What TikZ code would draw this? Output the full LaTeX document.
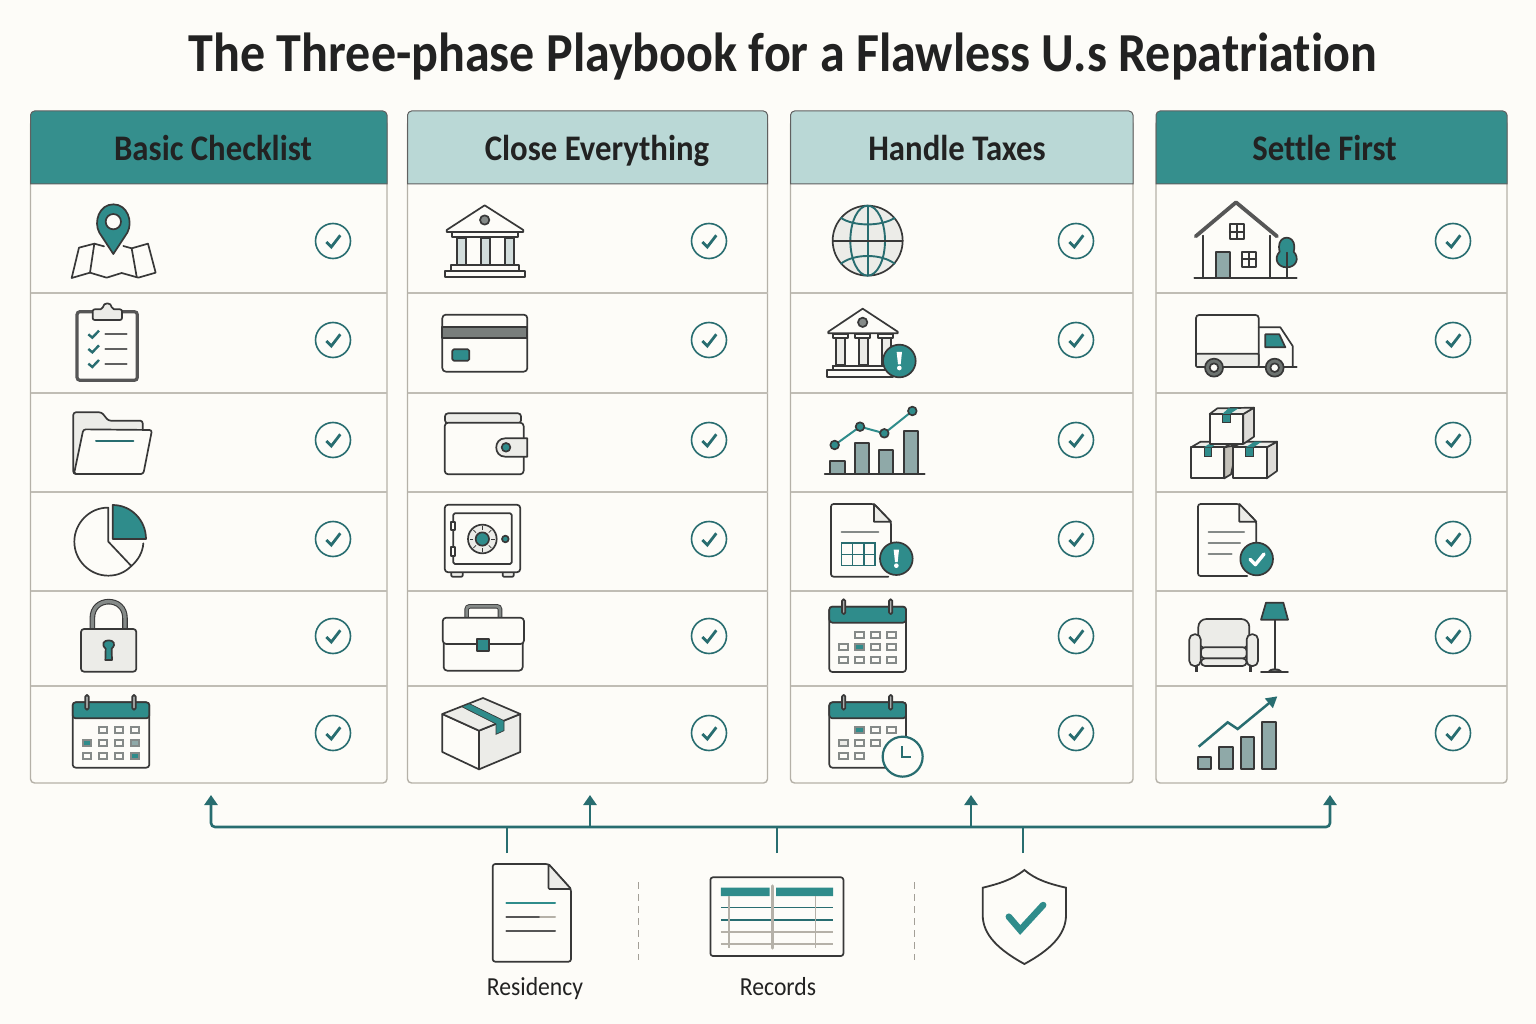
\documentclass[tikz,border=0pt]{standalone}
\usepackage{fontspec}
\setmainfont{Carlito}[FakeStretch=.91,Ligatures=NoCommon]
\usetikzlibrary{arrows.meta}
\definecolor{paper}{HTML}{FDFCF8}
\definecolor{teal}{HTML}{2F8C8B}
\definecolor{headteal}{HTML}{358F8D}
\definecolor{deepteal}{HTML}{286D70}
\definecolor{paleteal}{HTML}{BAD8D6}
\definecolor{ink}{HTML}{222222}
\definecolor{icondark}{HTML}{383838}
\definecolor{rule}{HTML}{B5B1A8}
\definecolor{soft}{HTML}{ECECE8}
\definecolor{slate}{HTML}{8FA9A8}
\definecolor{midgray}{HTML}{858A88}
\tikzset{
  zoomed/.style 2 args={shift={(#1,#2)},x=.33333pt,y=-.33333pt},
  icon/.style={draw=icondark,line width=1.7pt,line join=round,line cap=round},
  thin line/.style={line width=2pt,line cap=round},
  busline/.style={draw=deepteal,line width=2.6pt},
  uptip/.style={-{Triangle[length=10pt,width=13pt]}},
  pics/tickring/.style={code={
    \draw[deepteal,line width=1.6pt] (0,0) circle[radius=17.5];
    \draw[deepteal,line width=2.8pt,line join=miter] (-6.7,1) -- (-1.7,6) -- (7.3,-5.7);
  }},
  pics/alertbadge/.style={code={
    \draw[icon,fill=teal] (0,0) circle[radius=49];
    \fill[white] (-8,-27) -- (8,-27) -- (4,10) -- (-4,10) -- cycle;
    \fill[white] (0,21) circle[radius=7];
  }},
  pics/calicon/.style={code={
    \draw[icon,fill=paper,rounded corners=3pt] (0,0) rectangle (230,196);
    \draw[icon,fill=teal,rounded corners=3pt] (0,48) -- (0,0) -- (230,0) -- (230,48) -- cycle;
    \draw[icon,fill=midgray!70,rounded corners=1.5pt] (38,-22) rectangle (48,22);
    \draw[icon,fill=midgray!70,rounded corners=1.5pt] (179,-22) rectangle (189,22);
    \foreach \cc/\cr/\cf in {#1} {
      \draw[draw=midgray,line width=1.8pt,fill=\cf] (\cc*48-18,\cr*38+37) rectangle (\cc*48+8,\cr*38+55);
    }
  }},
}
\begin{document}
\begin{tikzpicture}[x=1pt,y=-1pt]
\useasboundingbox (0,0) rectangle (1536,1024);
\fill[paper] (0,0) rectangle (1536,1024);
\node[font=\fontsize{55}{60}\selectfont\bfseries,text=ink,anchor=base] (title) at (783,72) {The Three-phase Playbook for a Flawless U.s Repatriation};

\foreach \xl/\xr/\xt/\headc/\htext/\rx in {
  30.5/387/213/headteal/Basic Checklist/333,
  407.5/767.5/597/paleteal/Close Everything/709,
  790.5/1133/957/paleteal/Handle Taxes/1076,
  1156/1507/1324.5/headteal/Settle First/1453} {
  \draw[rule,line width=1.4pt,rounded corners=4pt] (\xl,120) rectangle (\xr,783);
  \fill[\headc] (\xl,184) -- (\xl,115) .. controls (\xl,113) and (\xl+2,111) .. (\xl+4,111) -- (\xr-4,111) .. controls (\xr-2,111) and (\xr,113) .. (\xr,115) -- (\xr,184) -- cycle;
  \draw[draw=icondark!80,line width=1pt] (\xl,184) -- (\xl,115) .. controls (\xl,113) and (\xl+2,111) .. (\xl+4,111) -- (\xr-4,111) .. controls (\xr-2,111) and (\xr,113) .. (\xr,115) -- (\xr,184) -- cycle;
  \node[font=\fontsize{36}{38}\selectfont\bfseries,text=ink,anchor=base] (head\htext) at (\xt,161) {\htext};
  \foreach \ry in {293,393,492,591,686}
    \draw[rule!85,line width=1.1pt] (\xl,\ry) -- (\xr,\ry);
  \foreach \ry in {241,340,440,539,636,733}
    \pic at (\rx,\ry) {tickring};
}

% first column
\begin{scope}[zoomed={30}{100}]
  \draw[icon] (222,439) -- (193,431) -- (147,443) -- (125,534) -- (180,518) -- (230,533) -- (275,519) -- (325,533) -- (377,518) -- (354,431) -- (305,445) -- (280,438);
  \draw[icon] (193,431) -- (180,518) (305,445) -- (320,530);
  \draw[icon,fill=teal] (250,462) -- (208,398) .. controls (190,365) and (208,313) .. (250,313) .. controls (292,313) and (310,365) .. (292,398) -- cycle;
  \draw[icon,fill=paper] (250,365) circle[radius=23];
  \draw[draw=icondark!85,line width=3.2pt,fill=paper,rounded corners=3pt] (141,635) rectangle (322,841);
  \draw[icon,fill=soft,rounded corners=2pt] (188,628) -- (218,628) .. controls (220,606) and (244,606) .. (246,628) -- (276,628) -- (276,660) -- (188,660) -- cycle;
  \foreach \ty in {703,747,791} {
    \draw[deepteal,line width=2.4pt] (175,\ty) -- (187,\ty+10) -- (207,\ty-11);
    \draw[icondark!80,thin line] (226,\ty) -- (290,\ty);
  }
  \draw[icon,fill=soft,rounded corners=2.5pt] (130,1122) -- (130,937) -- (215,937) -- (235,962) -- (338,962) -- (338,1122) -- cycle;
  \draw[icon,fill=paper,rounded corners=2.5pt] (160,988) -- (366,990) -- (340,1122) -- (132,1122) -- cycle;
  \draw[deepteal,thin line] (198,1024) -- (310,1024);
\end{scope}
\begin{scope}[zoomed={30}{490}]
  \draw[icon] (233,53) .. controls (179,53) and (133,99) .. (133,155) .. controls (133,211) and (179,257) .. (235,257) .. controls (262,257) and (285,247) .. (303,229) .. controls (325,210) and (338,187) .. (340,160);
  \draw[icon] (235,53) -- (235,155) -- (303,227);
  \draw[icon,fill=teal] (248,45) .. controls (304,45) and (348,91) .. (348,147) -- (248,147) -- cycle;
  \draw[icondark,line width=5.6pt] (187,415) -- (187,385) .. controls (187,352) and (210,335) .. (236,335) .. controls (262,335) and (285,352) .. (285,385) -- (285,415);
  \draw[midgray,line width=3.4pt] (187,415) -- (187,385) .. controls (187,352) and (210,335) .. (236,335) .. controls (262,335) and (285,352) .. (285,385) -- (285,415);
  \draw[icon,fill=soft,rounded corners=3pt] (153,417) rectangle (319,545);
  \draw[icon,fill=teal] (227,476) .. controls (212,462) and (222,451) .. (236,451) .. controls (250,451) and (260,462) .. (245,476) -- (246,510) -- (226,510) -- cycle;
  \pic at (128,637) {calicon={2/1/paper,3/1/paper,4/1/paper,1/2/teal,2/2/paper,3/2/paper,4/2/slate,1/3/paper,2/3/paper,3/3/paper,4/3/teal}};
\end{scope}

% second column
\begin{scope}[zoomed={410}{190}]
  \draw[icon,fill=paper] (224,46) -- (110,120) -- (110,126) -- (340,126) -- (340,120) -- cycle;
  \draw[icon,fill=midgray] (224,90) circle[radius=14];
  \draw[icon] (127,127) rectangle (323,140);
  \foreach \cx in {140,212,284} {
    \draw[icon,fill=slate!40] (\cx,143) rectangle (\cx+28,226);
    \draw[icon] (\cx-8,141) -- (\cx+36,141);
  }
  \draw[icon,fill=paper] (122,226) rectangle (326,242);
  \draw[icon,fill=paper] (105,242) rectangle (344,262);
  \draw[icon,fill=paper,rounded corners=3.5pt] (97,374) rectangle (352,545);
  \draw[icon,fill=midgray!110] (97,412) rectangle (352,443);
  \draw[icon,fill=teal,rounded corners=1.5pt] (127,478) rectangle (178,512);
  \draw[icon,fill=soft,rounded corners=3pt] (105,700) -- (105,670) -- (333,670) -- (333,700) -- cycle;
  \draw[icon,fill=paper,rounded corners=3.5pt] (104,698) rectangle (341,853);
  \draw[icon,fill=soft] (352,745) -- (285,745) .. controls (250,745) and (250,800) .. (285,800) -- (352,800) -- cycle;
  \draw[icon,fill=teal] (288,772) circle[radius=13];
\end{scope}
\begin{scope}[zoomed={410}{490}]
  \draw[icon,fill=soft,rounded corners=1pt] (124,240) rectangle (158,260);
  \draw[icon,fill=soft,rounded corners=1pt] (278,240) rectangle (311,260);
  \draw[icon,fill=paper,rounded corners=3.5pt] (104,44) rectangle (331,247);
  \draw[icon,rounded corners=1.5pt] (130,70) rectangle (305,222);
  \draw[icon,fill=paper] (122,97) rectangle (136,120);
  \draw[icon,fill=paper] (122,172) rectangle (136,197);
  \draw[icon,fill=soft] (217,147) circle[radius=43];
  \foreach \ta in {0,45,...,315}
    \draw[icondark,line width=.8pt] ({217+27*cos(\ta)},{147+27*sin(\ta)}) -- ({217+38*cos(\ta)},{147+38*sin(\ta)});
  \draw[icon,fill=teal] (217,147) circle[radius=20];
  \draw[icon,fill=teal] (286,147) circle[radius=10];
  \draw[icondark,line width=4.6pt,rounded corners=3pt] (170,384) -- (170,349) -- (270,349) -- (270,384);
  \draw[midgray,line width=2.8pt,rounded corners=3pt] (170,384) -- (170,349) -- (270,349) -- (270,384);
  \draw[icon,fill=paper,rounded corners=3.5pt] (101,450) -- (101,542) -- (338,542) -- (338,450) -- cycle;
  \draw[icon,fill=paper,rounded corners=3.5pt] (98,383) rectangle (342,462);
  \draw[icon,fill=teal] (202,447) rectangle (237,483);
  \draw[icon,fill=paper] (97,672) -- (207,722) -- (207,838) -- (97,786) -- cycle;
  \draw[icon,fill=soft] (207,722) -- (331,672) -- (331,786) -- (207,838) -- cycle;
  \draw[icon,fill=soft] (219,624) -- (97,672) -- (207,722) -- (331,672) -- cycle;
  \draw[draw=icondark,line width=.7pt,fill=teal] (155,650) -- (178,641) -- (282,692) -- (282,722) -- (258,733) -- (258,702) -- cycle;
\end{scope}

% third column
\begin{scope}[zoomed={790}{190}]
  \draw[icon,fill=soft] (233,152) circle[radius=105];
  \draw[deepteal,line width=1.9pt] (233,152) ellipse[x radius=52,y radius=105];
  \draw[deepteal,line width=1.9pt] (233,47) -- (233,257);
  \draw[deepteal,line width=1.9pt] (152,83) .. controls (190,110) and (275,110) .. (315,83);
  \draw[deepteal,line width=1.9pt] (152,222) .. controls (190,190) and (275,190) .. (315,222);
  \draw[icon] (128,152) -- (338,152);
  \draw[icon,fill=paper] (218,356) -- (115,425) -- (115,430) -- (323,430) -- (323,425) -- cycle;
  \draw[icon,fill=midgray] (218,397) circle[radius=14];
  \foreach \cx in {138,206,275} {
    \draw[icon,fill=soft] (\cx,444) rectangle (\cx+27,526);
    \draw[icon] (\cx-10,433) rectangle (\cx+35,444);
    \draw[icon] (\cx-10,527) -- (\cx+35,527);
  }
  \draw[icon,fill=paper] (128,529) rectangle (300,541);
  \draw[icon,fill=paper] (112,541) rectangle (310,560);
  \pic at (328,513) {alertbadge};
  \foreach \bx/\bt in {121/812,194/760,267/780,341/724}
    \draw[icon,fill=slate] (\bx,852) rectangle (\bx+43,\bt);
  \draw[icon] (104,852) -- (404,852);
  \draw[teal,thin line] (134,765) -- (210,710) -- (283,730) -- (367,663);
  \foreach \dx/\dy in {134/765,210/710,283/730,367/663}
    \draw[icon,fill=teal] (\dx,\dy) circle[radius=13];
\end{scope}
\begin{scope}[zoomed={790}{490}]
  \draw[icon,fill=paper,rounded corners=2.5pt] (295,260) -- (123,260) -- (123,42) -- (252,42) -- (303,95) -- (303,175);
  \draw[icon,fill=soft] (252,42) -- (252,95) -- (303,95) -- cycle;
  \draw[midgray,thin line] (155,127) -- (265,127);
  \draw[deepteal,line width=1.5pt] (155,159) rectangle (255,226);
  \draw[deepteal,line width=1.5pt] (188,159) -- (188,226) (222,159) -- (222,226) (155,193) -- (255,193);
  \pic at (319,206) {alertbadge};
  \pic at (118,350) {calicon={2/1/paper,3/1/paper,4/1/paper,1/2/paper,2/2/teal,3/2/paper,4/2/paper,1/3/paper,2/3/paper,3/3/paper,4/3/paper}};
  \pic at (118,637) {calicon={2/1/teal,3/1/paper,4/1/paper,1/2/soft,2/2/paper,3/2/paper,1/3/paper,2/3/paper}};
  \draw[deepteal,line width=2.2pt,fill=paper] (338,800) circle[radius=60];
  \draw[deepteal,line width=2pt] (335,768) -- (335,800) -- (362,800);
\end{scope}

% fourth column
\begin{scope}[zoomed={1160}{190}]
  \draw[icon] (129,137) -- (129,265) (329,137) -- (329,265);
  \draw[draw=icondark!85,line width=3.8pt,line join=round,line cap=round] (107,139) -- (228,37) -- (351,139);
  \draw[icon] (103,265) -- (410,265);
  \draw[icon,fill=slate] (169,187) rectangle (209,265);
  \foreach \wx/\wy in {209/103,247/186} {
    \draw[icon] (\wx,\wy) rectangle (\wx+42,\wy+44);
    \draw[icon] (\wx+21,\wy) -- (\wx+21,\wy+44) (\wx,\wy+22) -- (\wx+42,\wy+22);
  }
  \draw[icon,fill=teal] (357,170) .. controls (357,134) and (403,134) .. (403,170) .. controls (403,176) and (402,181) .. (401,185) .. controls (420,205) and (408,232) .. (380,232) .. controls (352,232) and (340,205) .. (359,185) .. controls (358,181) and (357,176) .. (357,170) -- cycle;
  \draw[icon] (380,188) -- (380,265);
  \draw[icon,fill=paper,rounded corners=3pt] (108,375) rectangle (296,531);
  \draw[icon,fill=soft,rounded corners=1pt] (108,491) rectangle (296,531);
  \draw[icon] (296,412) -- (361,412) -- (398,468) -- (398,530);
  \draw[icon] (296,531) -- (410,531);
  \draw[icon,fill=teal] (316,433) -- (358,433) -- (376,472) -- (316,472) -- cycle;
  \foreach \wx in {162,344} {
    \draw[icon,fill=midgray!120] (\wx,533) circle[radius=27];
    \draw[icon,fill=paper] (\wx,533) circle[radius=13];
  }
  \draw[icon,fill=rule!80] (193,772) -- (232,765) -- (213,853) -- (193,865) -- cycle;
  \draw[icon,fill=soft] (93,772) -- (122,755) -- (225,755) -- (193,772) -- cycle;
  \draw[icon,fill=paper] (93,772) rectangle (193,865);
  \draw[draw=icondark,line width=.7pt,fill=teal] (132,772) -- (155,772) -- (155,798) -- (132,798) -- cycle;
  \fill[teal] (132,772) -- (145,763) -- (165,763) -- (155,772) -- cycle;
  \draw[icon,fill=rule!45] (320,772) -- (351,755) -- (351,843) -- (320,865) -- cycle;
  \draw[icon,fill=soft] (218,772) -- (250,755) -- (351,755) -- (320,772) -- cycle;
  \draw[icon,fill=paper] (218,772) rectangle (320,865);
  \draw[draw=icondark,line width=.7pt,fill=teal] (257,772) rectangle (280,798);
  \fill[teal] (257,772) -- (283,755) -- (305,755) -- (280,772) -- cycle;
  \draw[icon,fill=rule!45] (250,672) -- (282,653) -- (282,740) -- (250,762) -- cycle;
  \draw[icon,fill=soft] (149,672) -- (172,655) -- (282,653) -- (250,672) -- cycle;
  \draw[icon,fill=paper] (149,672) rectangle (250,762);
  \draw[draw=icondark,line width=.7pt,fill=teal] (187,672) rectangle (210,698);
  \fill[teal] (187,672) -- (205,655) -- (235,655) -- (210,672) -- cycle;
\end{scope}
\begin{scope}[zoomed={1160}{490}]
  \draw[icon,fill=paper,rounded corners=2.5pt] (262,258) -- (114,258) -- (114,42) -- (238,42) -- (289,95) -- (289,175);
  \draw[icon,fill=soft] (238,42) -- (238,95) -- (289,95) -- cycle;
  \draw[midgray,thin line] (146,127) -- (252,127) (146,160) -- (240,160) (146,193) -- (215,193);
  \draw[icon,fill=teal] (290,207) circle[radius=49];
  \draw[white,line width=3.4pt,line cap=round,line join=round] (270,208) -- (286,224) -- (312,192);
  \draw[icon,fill=soft,rounded corners=8pt] (115,475) -- (115,387) -- (268,387) -- (268,475) -- cycle;
  \draw[icon,fill=soft,rounded corners=4pt] (123,505) rectangle (260,528);
  \draw[icon,fill=soft,rounded corners=3.5pt] (123,472) rectangle (260,505);
  \draw[icon,fill=soft,rounded corners=5pt] (88,433) rectangle (122,528);
  \draw[icon,fill=soft,rounded corners=5pt] (260,433) rectangle (294,528);
  \draw[icondark,line width=2.8pt,line cap=butt] (110,528) -- (110,547) (272,528) -- (272,547);
  \draw[icondark,line width=2pt] (344,389) -- (344,537);
  \draw[icon,fill=teal] (318,338) -- (370,338) -- (384,389) -- (303,389) -- cycle;
  \draw[icon,fill=midgray] (326,545) .. controls (330,535) and (358,535) .. (364,545) -- cycle;
  \draw[icon] (303,545) -- (384,545);
  \foreach \bx/\bt in {114/802,178/770,243/740,307/697}
    \draw[icon,fill=slate] (\bx,838) rectangle (\bx+40,\bt);
  \draw[deepteal,line width=2.5pt,-{Triangle[length=11pt,width=12pt]}] (116,770) -- (203,697) -- (233,717) -- (352,619);
\end{scope}

% bottom row
\coordinate (taila) at (211,827);
\coordinate (tipa) at (211,795);
\coordinate (tailb) at (590,827);
\coordinate (tipb) at (590,795);
\coordinate (tailc) at (971,827);
\coordinate (tipc) at (971,795);
\coordinate (taild) at (1330,827);
\coordinate (tipd) at (1330,795);
\coordinate (residency) at (507,853);
\coordinate (records) at (777,853);
\coordinate (shield) at (1023,853);
\draw[busline,rounded corners=4pt,{Triangle[length=10pt,width=13pt]}-{Triangle[length=10pt,width=13pt]}] (tipa) -- (taila) -- (taild) -- (tipd);
\draw[busline,uptip] (tailb) -- (tipb);
\draw[busline,uptip] (tailc) -- (tipc);
\draw[busline] (residency) -- (residency |- taila);
\draw[busline] (records) -- (records |- taila);
\draw[busline] (shield) -- (shield |- taila);

\draw[icon,fill=paper,rounded corners=2.5pt] (492.7,961.7) -- (492.7,864) -- (548.5,864) -- (571,889) -- (571,961.7) -- cycle;
\draw[icon,fill=soft,rounded corners=1pt] (548.5,864) -- (548.5,889) -- (571,889) -- cycle;
\draw[teal,thin line] (506.4,902.7) -- (555,902.7);
\draw[icondark!85,thin line] (506.4,917) -- (540,917);
\draw[rule,thin line] (540,917) -- (555,917);
\draw[icondark!85,thin line] (506.4,931.3) -- (555,931.3);
\draw[rule!90!black,line width=1.4pt,dash pattern=on 7pt off 5pt] (638.5,882) -- (638.5,960);
\draw[rule!90!black,line width=1.4pt,dash pattern=on 7pt off 5pt] (914.6,882) -- (914.6,960);

\draw[icon,fill=paper,rounded corners=2.5pt] (710.4,877.3) rectangle (843.4,956);
\fill[teal] (720.8,887.7) rectangle (769.7,896) (776,887.7) rectangle (833,896);
\draw[deepteal,line width=1.6pt] (720.8,907.3) -- (833,907.3) (720.8,919.7) -- (833,919.7);
\draw[rule,line width=1.6pt] (720.8,931.7) -- (833,931.7) (720.8,944) -- (833,944) (729,896) -- (729,948) (815.5,896) -- (815.5,948);
\draw[rule,line width=3.2pt,line cap=round] (772.5,886) -- (772.5,948);

\draw[draw=icondark,line width=1.8pt,line join=miter,fill=paper] (1024.4,870) .. controls (1036,880) and (1050,884) .. (1066,887.7) -- (1066,915) .. controls (1066,935) and (1050,950) .. (1024.4,964) .. controls (999,950) and (982.7,935) .. (982.7,915) -- (982.7,887.7) .. controls (998,884) and (1012,880) .. (1024.4,870) -- cycle;
\draw[teal,line width=6.5pt,line cap=round,line join=miter] (1008.8,916.7) -- (1020.2,930) -- (1043.2,905);

\node[font=\fontsize{26}{28}\selectfont,text=ink,anchor=base] (residencylabel) at (535,995) {Residency};
\node[font=\fontsize{26}{28}\selectfont,text=ink,anchor=base] (recordslabel) at (778,995) {Records};
\end{tikzpicture}
\end{document}
